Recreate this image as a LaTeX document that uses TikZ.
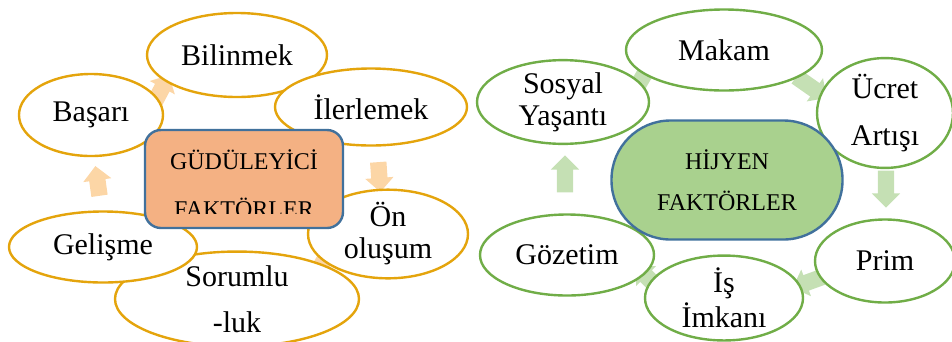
\documentclass[tikz,border=0pt]{standalone}
\usepackage{fontspec}
\setmainfont{Liberation Serif}
\usetikzlibrary{shapes.geometric,shapes.arrows}
\definecolor{goldline}{RGB}{228,164,12}
\definecolor{goldarrow}{RGB}{252,214,166}
\definecolor{greenline}{RGB}{112,173,71}
\definecolor{greenarrow}{RGB}{197,224,180}
\definecolor{boxblue}{RGB}{65,113,156}
\definecolor{orangefill}{RGB}{244,177,131}
\definecolor{greenfill}{RGB}{169,209,142}
\begin{document}
\begin{tikzpicture}[x=1pt,y=-1pt,
  oval/.style={ellipse, draw=#1, line width=2.4pt, fill=white, inner sep=0pt,
    align=center, font=\fontsize{30}{32}\selectfont},
  cycarrow/.style={single arrow, draw=none, fill=#1, inner xsep=0pt, inner ysep=8pt,
    minimum height=30pt, single arrow head extend=6pt, single arrow tip angle=90},
  centertext/.style={align=center, font=\fontsize{24}{28}\selectfont}]
\useasboundingbox (0,0) rectangle (952,341);
\clip (0,0) rectangle (952,341);

% ---------- left cycle ----------
\node[cycarrow=goldarrow, rotate=98] (a1) at (98,185) {};
\node[cycarrow=goldarrow, rotate=62] (a2) at (160,92) {};
\node[cycarrow=goldarrow, rotate=-25] (a3) at (313,83) {};
\node[cycarrow=goldarrow, rotate=-86] (a4) at (379,173) {};
\node[cycarrow=goldarrow, rotate=-120] (a5) at (322,264) {};
\node[cycarrow=goldarrow, rotate=160] (a6) at (166,282) {};

\node[oval=goldline, minimum width=244pt, minimum height=77pt] (sor) at (237,299) {Sorumlu\\[14pt]-luk};
\node[oval=goldline, minimum width=188pt, minimum height=71pt] (gel) at (103,247) {Gelişme};
\node[oval=goldline, minimum width=144pt, minimum height=82pt] (bas) at (91,115) {Başarı};
\node[oval=goldline, minimum width=180pt, minimum height=84pt] (bil) at (237,55) {Bilinmek};
\node[oval=goldline, minimum width=192pt, minimum height=77pt] (ile) at (371,107) {İlerlemek};
\node[oval=goldline, minimum width=160pt, minimum height=63pt] (on) at (388,234) {Ön\\oluşum};

\node[draw=boxblue, fill=orangefill, line width=2.4pt, rounded corners=16pt,
  minimum width=198pt, minimum height=98pt] (gud) at (244,179) {};
\begin{scope}
  \clip (144,129) rectangle (344,213);
  \node[centertext] (gudtext) at (244,184) {GÜDÜLEYİCİ\\[20pt]FAKTÖRLER};
\end{scope}

% ---------- right cycle ----------
\node[cycarrow=greenarrow, rotate=90, minimum height=37pt] (b1) at (565,178) {};
\node[cycarrow=greenarrow, rotate=60, minimum height=37pt] (b2) at (641,80) {};
\node[cycarrow=greenarrow, rotate=-35, minimum height=37pt] (b3) at (808,85) {};
\node[cycarrow=greenarrow, rotate=-90, minimum height=37pt] (b4) at (886,185) {};
\node[cycarrow=greenarrow, rotate=200, minimum height=37pt] (b5) at (814,280) {};
\node[cycarrow=greenarrow, rotate=135, minimum height=37pt] (b6) at (652,282) {};

\node[oval=greenline, minimum width=172pt, minimum height=78pt] (sos) at (563,102) {Sosyal\\Yaşantı};
\node[oval=greenline, minimum width=196pt, minimum height=81pt] (mak) at (724,50) {Makam};
\node[oval=greenline, minimum width=136pt, minimum height=80pt] (ucr) at (885,113) {Ücret\\[15pt]Artışı};
\node[oval=greenline, minimum width=140pt, minimum height=83pt] (prim) at (885,261) {Prim};
\node[oval=greenline, minimum width=158pt, minimum height=82pt] (is) at (724,298) {İş\\[3pt]İmkanı};
\node[oval=greenline, minimum width=174pt, minimum height=81pt] (goz) at (567,255) {Gözetim};

\node[draw=boxblue, fill=greenfill, line width=2.4pt, rounded corners=59pt,
  minimum width=231pt, minimum height=119pt, centertext] (hij) at (727,180)
  {HİJYEN\\[13pt]FAKTÖRLER};
\end{tikzpicture}
\end{document}
